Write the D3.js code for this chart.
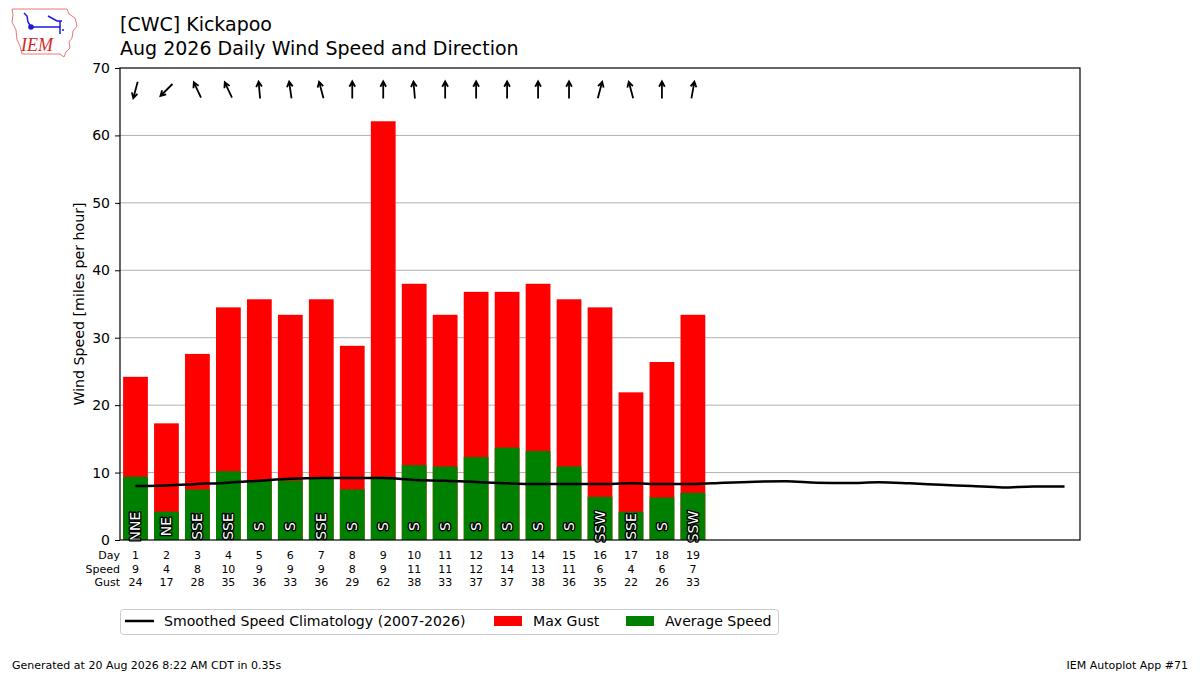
<!DOCTYPE html>
<html><head><meta charset="utf-8">
<script src="https://cdn.jsdelivr.net/npm/d3@7"></script>
<style>
body{margin:0;background:#fff;}
svg{font-family:"DejaVu Sans",sans-serif;}
</style></head>
<body><svg id="c" width="1200" height="675"></svg>
<script>
// ---- data ----
const days = d3.range(1, 20);
const avgSpeed = [9.4, 4.2, 7.5, 10.2, 8.8, 8.8, 9.2, 7.5, 9.4, 11.1, 10.9, 12.3, 13.7, 13.2, 10.9, 6.4, 4.2, 6.3, 7.0];
const maxGust = [24.2, 17.3, 27.6, 34.5, 35.7, 33.4, 35.7, 28.8, 62.1, 38.0, 33.4, 36.8, 36.8, 38.0, 35.7, 34.5, 21.9, 26.4, 33.4];
const dirLabels = ["NNE","NE","SSE","SSE","S","S","SSE","S","S","S","S","S","S","S","S","SSW","SSE","S","SSW"];
const dirDegrees = [15, 45, 155, 155, 175, 172, 165, 180, 180, 175, 180, 180, 180, 180, 180, 195, 165, 180, 190];
const climoDays = d3.range(1, 32);
const climoSpeed = [8.0, 8.1, 8.3, 8.5, 8.8, 9.1, 9.2, 9.2, 9.2, 8.9, 8.8, 8.6, 8.4, 8.3, 8.3, 8.3, 8.4, 8.3, 8.3,
                    8.5, 8.65, 8.7, 8.5, 8.45, 8.55, 8.4, 8.2, 8.0, 7.8, 7.95, 7.95];
const yTicks = [0, 10, 20, 30, 40, 50, 60, 70];

// ---- layout ----
const svg = d3.select("#c");
const L = 120, R = 1080, T = 68, B = 540;
const x = d3.scaleLinear().domain([0.5, 31.5]).range([L, R]);
const y = d3.scaleLinear().domain([0, 70]).range([B, T]);
const bw = (x(1) - x(0)) * 0.8;

// grid
svg.append("g").selectAll("line").data(yTicks.filter(t => t > 0 && t < 70)).join("line")
  .attr("x1", L).attr("x2", R).attr("y1", d => y(d)).attr("y2", d => y(d))
  .attr("stroke", "#b0b0b0").attr("stroke-width", 1);

// bars: gust then avg
svg.append("g").selectAll("rect").data(days).join("rect")
  .attr("x", (d) => x(d) - bw / 2).attr("width", bw)
  .attr("y", (d, i) => y(maxGust[i])).attr("height", (d, i) => B - y(maxGust[i]))
  .attr("fill", "#ff0000");
svg.append("g").selectAll("rect").data(days).join("rect")
  .attr("x", (d) => x(d) - bw / 2).attr("width", bw)
  .attr("y", (d, i) => y(avgSpeed[i])).attr("height", (d, i) => B - y(avgSpeed[i]))
  .attr("fill", "#008000");

// climatology line
svg.append("path").datum(climoDays)
  .attr("d", d3.line().x(d => x(d)).y((d, i) => y(climoSpeed[i])).curve(d3.curveMonotoneX))
  .attr("fill", "none").attr("stroke", "#000").attr("stroke-width", 2.5);

// direction labels in bars
svg.append("g").selectAll("text").data(days).join("text")
  .attr("transform", d => `translate(${x(d)},${y(2)}) rotate(-90)`)
  .attr("text-anchor", "middle").attr("dominant-baseline", "central")
  .attr("font-size", 14).attr("fill", "#fff").attr("stroke", "#000").attr("stroke-width", 2.8)
  .attr("paint-order", "stroke").attr("stroke-linejoin", "round")
  .text((d, i) => dirLabels[i]);

// arrows
const arrG = svg.append("g");
days.forEach((d, i) => {
  const th = (dirDegrees[i] + 180) * Math.PI / 180;
  const len = 17, cx = x(d), cy = 90;
  const ux = Math.sin(th), uy = -Math.cos(th);
  const x0 = cx - ux * len / 2, y0 = cy - uy * len / 2;
  const x1 = cx + ux * len / 2, y1 = cy + uy * len / 2;
  const h = 6, a = 0.5;
  const hx1 = x1 - h * (ux * Math.cos(a) - uy * Math.sin(a));
  const hy1 = y1 - h * (uy * Math.cos(a) + ux * Math.sin(a));
  const hx2 = x1 - h * (ux * Math.cos(-a) - uy * Math.sin(-a));
  const hy2 = y1 - h * (uy * Math.cos(-a) + ux * Math.sin(-a));
  arrG.append("path")
    .attr("d", `M${x0},${y0}L${x1},${y1}M${hx1},${hy1}L${x1},${y1}L${hx2},${hy2}`)
    .attr("fill", "none").attr("stroke", "#000").attr("stroke-width", 1.8).attr("stroke-linejoin", "miter");
});

// axes frame
svg.append("rect").attr("x", L).attr("y", T).attr("width", R - L).attr("height", B - T)
  .attr("fill", "none").attr("stroke", "#000").attr("stroke-width", 1.2);

const yAxis = svg.append("g").attr("transform", `translate(${L},0)`)
  .call(d3.axisLeft(y).tickValues(yTicks).tickSize(5).tickPadding(5));
yAxis.select(".domain").remove();
yAxis.selectAll("text").attr("font-size", 14).attr("font-family", "DejaVu Sans").attr("fill", "#000");
yAxis.selectAll("line").attr("stroke", "#000");

svg.append("text").attr("transform", `translate(84,${(T + B) / 2}) rotate(-90)`)
  .attr("text-anchor", "middle").attr("font-size", 14.2).text("Wind Speed [miles per hour]");

// table under axis
const rows = [["Day", days], ["Speed", avgSpeed.map(v => Math.round(v))], ["Gust", maxGust.map(v => Math.round(v))]];
rows.forEach((r, ri) => {
  const yy = 559 + ri * 13.5;
  svg.append("text").attr("x", 120).attr("y", yy).attr("text-anchor", "end").attr("font-size", 11).text(r[0]);
  svg.append("g").selectAll("text").data(r[1]).join("text")
    .attr("x", (v, i) => x(days[i])).attr("y", yy).attr("text-anchor", "middle").attr("font-size", 11)
    .text(v => v);
});

// title
svg.append("text").attr("x", 120).attr("y", 31).attr("font-size", 19).text("[CWC] Kickapoo");
svg.append("text").attr("x", 120).attr("y", 55).attr("font-size", 19).text("Aug 2026 Daily Wind Speed and Direction");

// legend
const lg = svg.append("g");
lg.append("rect").attr("x", 120.5).attr("y", 609.5).attr("width", 658).attr("height", 25).attr("rx", 3)
  .attr("fill", "#fff").attr("stroke", "#ccc");
lg.append("line").attr("x1", 125).attr("x2", 154).attr("y1", 621).attr("y2", 621).attr("stroke", "#000").attr("stroke-width", 2.5);
lg.append("text").attr("x", 164).attr("y", 626).attr("font-size", 14.1).text("Smoothed Speed Climatology (2007-2026)");
lg.append("rect").attr("x", 494).attr("y", 616).attr("width", 28).attr("height", 10).attr("fill", "#ff0000");
lg.append("text").attr("x", 533).attr("y", 626).attr("font-size", 14.1).text("Max Gust");
lg.append("rect").attr("x", 626).attr("y", 616).attr("width", 28).attr("height", 10).attr("fill", "#008000");
lg.append("text").attr("x", 665).attr("y", 626).attr("font-size", 14.1).text("Average Speed");

// footer
svg.append("text").attr("x", 12).attr("y", 669).attr("font-size", 11).text("Generated at 20 Aug 2026 8:22 AM CDT in 0.35s");
svg.append("text").attr("x", 1188).attr("y", 669).attr("text-anchor", "end").attr("font-size", 11).text("IEM Autoplot App #71");

// logo
const lo = svg.append("g");
lo.append("path").attr("d", "M12,9 L67,9 L69,14 L75,18 L77,26 L73,31 L72,38 L69,42 L70,48 L66,52 L64,57 L60,54 L22,54 L20,46 L17,40 L16,30 L12,22 L13,15 Z")
  .attr("fill", "none").attr("stroke", "#e87878").attr("stroke-width", 1);
lo.append("path").attr("d", "M24,13 L27,16 L28,22 L31,27 L60,27 M48,16 L57,21 L62,21 M60,21 L60,34 M62,30 L64,30")
  .attr("fill", "none").attr("stroke", "#1a1adb").attr("stroke-width", 1.5);
lo.append("circle").attr("cx", 31).attr("cy", 27).attr("r", 2.8).attr("fill", "#1a1adb");
lo.append("text").attr("x", 21).attr("y", 51).attr("font-family", "Liberation Serif").attr("font-style", "italic")
  .attr("font-size", 18).attr("fill", "#d42a2a").text("IEM");
</script></body></html>
